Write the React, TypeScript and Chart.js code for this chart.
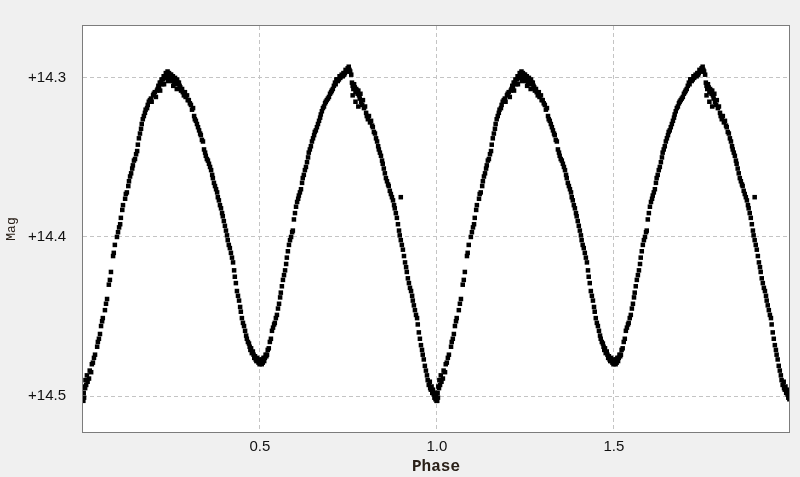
import React, { useEffect, useRef } from "react";
import { Chart, registerables } from "chart.js";

Chart.register(...registerables);

// Phase-folded photometry: [phase, magnitude] for one cycle (plotted twice: phase and phase + 1)
const observations: [number, number][] = [
  [0.001,14.503],[0.002,14.498],[0.003,14.501],[0.004,14.494],[0.006,14.495],[0.007,14.490],[0.009,14.493],[0.011,14.487],[0.013,14.491],[0.017,14.489],
  [0.019,14.484],[0.023,14.485],[0.025,14.480],[0.028,14.479],[0.031,14.476],[0.034,14.474],[0.040,14.469],[0.042,14.466],[0.045,14.464],[0.048,14.461],
  [0.051,14.456],[0.054,14.453],[0.056,14.451],[0.062,14.446],[0.065,14.442],[0.068,14.439],[0.073,14.430],[0.076,14.427],[0.079,14.422],[0.085,14.412],
  [0.087,14.410],[0.090,14.405],[0.096,14.400],[0.099,14.397],
  [0.102,14.394],[0.105,14.392],[0.107,14.388],[0.111,14.383],[0.113,14.380],[0.119,14.376],[0.121,14.373],[0.124,14.372],[0.128,14.368],[0.130,14.365],
  [0.133,14.362],[0.136,14.360],[0.139,14.357],[0.141,14.355],[0.144,14.352],[0.147,14.351],[0.150,14.348],[0.153,14.346],[0.155,14.342],[0.158,14.338],
  [0.161,14.335],[0.164,14.332],[0.166,14.329],[0.169,14.326],[0.172,14.324],[0.175,14.322],[0.177,14.320],[0.181,14.319],[0.183,14.317],[0.186,14.315],
  [0.189,14.314],[0.192,14.313],[0.194,14.315],[0.198,14.311],[0.200,14.310],[0.203,14.309],[0.206,14.312],[0.209,14.308],[0.211,14.307],
  [0.213,14.305],[0.215,14.306],[0.217,14.303],[0.218,14.308],[0.220,14.303],[0.222,14.301],[0.224,14.304],[0.226,14.301],[0.228,14.299],[0.229,14.304],
  [0.230,14.300],[0.232,14.299],[0.234,14.297],[0.236,14.300],[0.237,14.298],[0.239,14.296],[0.240,14.302],[0.241,14.299],[0.243,14.297],[0.245,14.300],
  [0.247,14.298],[0.249,14.298],[0.251,14.300],[0.252,14.302],[0.254,14.299],[0.255,14.305],[0.256,14.301],[0.258,14.303],[0.260,14.300],[0.262,14.302],
  [0.264,14.304],[0.265,14.307],[0.266,14.301],[0.268,14.303],[0.271,14.303],[0.273,14.305],[0.275,14.306],[0.277,14.308],[0.280,14.307],[0.282,14.309],
  [0.285,14.311],[0.288,14.309],[0.290,14.312],[0.294,14.311],[0.296,14.314],[0.299,14.314],[0.302,14.316],[0.305,14.317],[0.308,14.320],[0.311,14.319],
  [0.314,14.324],[0.316,14.326],[0.319,14.327],[0.322,14.329],[0.325,14.331],[0.328,14.333],[0.331,14.335],[0.333,14.336],[0.336,14.339],[0.339,14.340],
  [0.342,14.345],[0.345,14.347],[0.347,14.349],[0.350,14.351],[0.353,14.352],[0.356,14.354],[0.359,14.356],[0.362,14.358],[0.365,14.361],[0.367,14.363],
  [0.370,14.366],[0.373,14.368],[0.376,14.370],[0.379,14.372],[0.381,14.375],[0.384,14.377],[0.387,14.380],[0.390,14.382],[0.393,14.385],[0.395,14.387],
  [0.398,14.390],[0.401,14.393],[0.404,14.396],[0.407,14.399],[0.409,14.402],[0.412,14.405],[0.415,14.407],[0.418,14.410],[0.421,14.413],[0.424,14.416],
  [0.427,14.421],[0.429,14.425],[0.432,14.429],[0.435,14.434],[0.438,14.437],[0.441,14.440],[0.444,14.444],[0.446,14.447],[0.449,14.451],[0.452,14.454],
  [0.455,14.456],[0.458,14.459],[0.461,14.462],[0.463,14.464],[0.466,14.466],[0.469,14.467],[0.471,14.469],[0.473,14.471],[0.475,14.470],[0.477,14.473],
  [0.480,14.472],[0.482,14.474],[0.484,14.476],[0.486,14.475],[0.488,14.477],[0.490,14.478],[0.492,14.476],[0.494,14.478],[0.496,14.479],[0.497,14.477],
  [0.499,14.480],[0.501,14.479],
  [0.503,14.478],[0.505,14.480],[0.507,14.477],[0.508,14.479],[0.510,14.476],[0.512,14.478],[0.514,14.476],[0.516,14.474],[0.518,14.475],[0.520,14.474],
  [0.522,14.471],[0.525,14.470],[0.528,14.466],[0.531,14.464],[0.534,14.459],[0.537,14.457],[0.540,14.455],[0.542,14.454],[0.545,14.451],[0.548,14.449],
  [0.551,14.445],[0.554,14.442],[0.557,14.438],[0.559,14.435],[0.562,14.431],[0.565,14.427],[0.568,14.424],[0.571,14.421],[0.574,14.417],[0.576,14.413],
  [0.579,14.409],[0.582,14.405],[0.585,14.402],[0.588,14.400],[0.591,14.397],[0.593,14.396],[0.596,14.389],[0.599,14.385],[0.602,14.381],[0.605,14.378],
  [0.608,14.376],[0.610,14.374],[0.613,14.372],[0.616,14.370],[0.619,14.366],[0.621,14.363],[0.624,14.361],[0.627,14.358],[0.630,14.356],[0.633,14.353],
  [0.636,14.350],[0.638,14.347],[0.641,14.345],[0.644,14.343],[0.647,14.340],[0.650,14.338],[0.653,14.336],[0.655,14.334],[0.658,14.333],[0.661,14.331],
  [0.664,14.329],[0.667,14.327],[0.670,14.325],[0.672,14.323],[0.675,14.321],[0.678,14.319],[0.681,14.318],[0.684,14.316],[0.686,14.315],[0.689,14.314],
  [0.692,14.313],[0.695,14.312],[0.698,14.310],[0.701,14.309],[0.703,14.308],[0.706,14.307],[0.709,14.305],[0.712,14.303],[0.714,14.304],[0.716,14.301],
  [0.718,14.301],[0.720,14.302],[0.723,14.301],[0.725,14.299],[0.727,14.300],[0.729,14.299],[0.731,14.298],[0.734,14.299],[0.736,14.297],[0.738,14.298],
  [0.740,14.297],[0.742,14.295],[0.744,14.296],[0.746,14.296],[0.748,14.294],[0.751,14.293],[0.753,14.295],[0.755,14.296],
  [0.758,14.298],[0.760,14.303],[0.762,14.305],[0.762,14.311],[0.764,14.307],[0.766,14.304],[0.768,14.306],[0.770,14.309],[0.770,14.315],[0.772,14.307],
  [0.774,14.308],[0.776,14.310],[0.778,14.308],[0.778,14.318],[0.780,14.311],[0.782,14.313],[0.784,14.310],[0.786,14.315],[0.789,14.317],[0.791,14.314],
  [0.794,14.319],[0.797,14.318],[0.800,14.322],
  [0.802,14.324],[0.805,14.326],[0.808,14.324],[0.811,14.328],[0.814,14.327],[0.817,14.330],[0.819,14.331],[0.822,14.334],[0.825,14.335],[0.828,14.338],
  [0.831,14.340],[0.834,14.343],[0.836,14.345],[0.839,14.347],[0.842,14.349],[0.845,14.352],[0.847,14.354],[0.850,14.357],[0.853,14.360],[0.856,14.363],
  [0.859,14.365],[0.862,14.367],[0.864,14.368],[0.867,14.371],[0.870,14.373],[0.873,14.375],[0.876,14.377],[0.879,14.380],[0.881,14.382],[0.884,14.385],
  [0.887,14.388],[0.890,14.392],[0.893,14.396],[0.895,14.399],[0.898,14.375],[0.898,14.402],[0.901,14.405],[0.904,14.408],[0.907,14.412],[0.910,14.416],
  [0.913,14.419],[0.915,14.422],[0.918,14.426],[0.921,14.429],[0.924,14.432],[0.927,14.434],[0.930,14.437],[0.932,14.440],[0.935,14.443],[0.938,14.446],
  [0.941,14.449],[0.944,14.451],[0.946,14.455],[0.949,14.460],[0.952,14.464],[0.955,14.468],[0.958,14.471],[0.960,14.474],[0.963,14.477],[0.966,14.481],
  [0.969,14.484],[0.972,14.487],[0.974,14.490],[0.977,14.493],[0.980,14.491],[0.981,14.495],[0.983,14.496],[0.985,14.494],[0.987,14.498],[0.989,14.496],
  [0.991,14.499],[0.993,14.501],[0.994,14.498],[0.996,14.502],[0.998,14.500],[0.999,14.503],
];

const foldCycles = [0, 1];
const phaseRange = [0, 1.995];
const magRange = [14.2674, 14.5226];
const phaseTicks = [0.5, 1.0, 1.5];
const magTicks = [14.3, 14.4, 14.5];

const frame = {
  id: "frame",
  beforeDraw(chart: any) {
    const { ctx, chartArea: a, width, height } = chart;
    ctx.save();
    ctx.fillStyle = "#f0f0f0";
    ctx.fillRect(0, 0, width, height);
    ctx.fillStyle = "#ffffff";
    ctx.fillRect(a.left, a.top, a.right - a.left, a.bottom - a.top);
    ctx.restore();
  },
  afterDraw(chart: any) {
    const { ctx, chartArea: a } = chart;
    ctx.save();
    ctx.strokeStyle = "#7c7c7c";
    ctx.lineWidth = 1;
    ctx.strokeRect(Math.round(a.left) - 0.5, Math.round(a.top) - 0.5, Math.round(a.right - a.left) + 1, Math.round(a.bottom - a.top) + 1);
    ctx.restore();
  },
};

export default function App() {
  const ref = useRef<HTMLCanvasElement | null>(null);

  useEffect(() => {
    if (!ref.current) return;
    const points = foldCycles.flatMap((c) => observations.map(([p, m]) => ({ x: p + c, y: m })));
    const tickFont = { family: '"Liberation Sans", Arial, sans-serif', size: 15 };
    const chart = new Chart(ref.current, {
      type: "scatter",
      data: {
        datasets: [
          {
            data: points,
            pointStyle: "rect",
            pointRadius: 3.2,
            pointBorderWidth: 0,
            backgroundColor: "#000000",
            borderColor: "#000000",
          },
        ],
      },
      plugins: [frame],
      options: {
        animation: false,
        responsive: false,
        events: [],
        layout: { padding: { top: 25, right: 11, left: 0, bottom: 0 } },
        plugins: { legend: { display: false }, tooltip: { enabled: false } },
        scales: {
          x: {
            type: "linear",
            min: phaseRange[0],
            max: phaseRange[1],
            afterBuildTicks: (s: any) => {
              s.ticks = phaseTicks.map((v) => ({ value: v }));
            },
            afterFit: (s: any) => {
              s.height = 45;
            },
            ticks: {
              callback: (v: any) => Number(v).toFixed(1),
              font: tickFont,
              color: "#111",
              padding: 6,
              maxRotation: 0,
              autoSkip: false,
            },
            grid: { color: "#c4c4c4", lineWidth: 1, drawTicks: false, borderDash: [4, 3] } as any,
            border: { display: false, dash: [4, 3] },
            title: {
              display: true,
              text: "Phase",
              color: "#2a2018",
              font: { family: '"Liberation Mono", "Courier New", monospace', size: 16, weight: "bold" },
              padding: { top: 0, bottom: 0 },
            },
          },
          y: {
            type: "linear",
            reverse: true,
            min: magRange[0],
            max: magRange[1],
            afterBuildTicks: (s: any) => {
              s.ticks = magTicks.map((v) => ({ value: v }));
            },
            afterFit: (s: any) => {
              s.width = 83;
            },
            ticks: {
              callback: (v: any) => "+" + Number(v).toFixed(1),
              font: tickFont,
              color: "#111",
              padding: 17,
              autoSkip: false,
            },
            grid: { color: "#c4c4c4", lineWidth: 1, drawTicks: false, borderDash: [4, 3] } as any,
            border: { display: false, dash: [4, 3] },
            title: {
              display: true,
              text: "Mag",
              color: "#2a2018",
              font: { family: '"Liberation Mono", "Courier New", monospace', size: 13 },
              padding: { top: 4, bottom: 0 },
            },
          },
        },
      } as any,
    });
    return () => chart.destroy();
  }, []);

  return (
    <div style={{ position: "fixed", left: 0, top: 0, width: 800, height: 477, background: "#f0f0f0" }}>
      <canvas ref={ref} width={800} height={477} style={{ display: "block" }} />
    </div>
  );
}
